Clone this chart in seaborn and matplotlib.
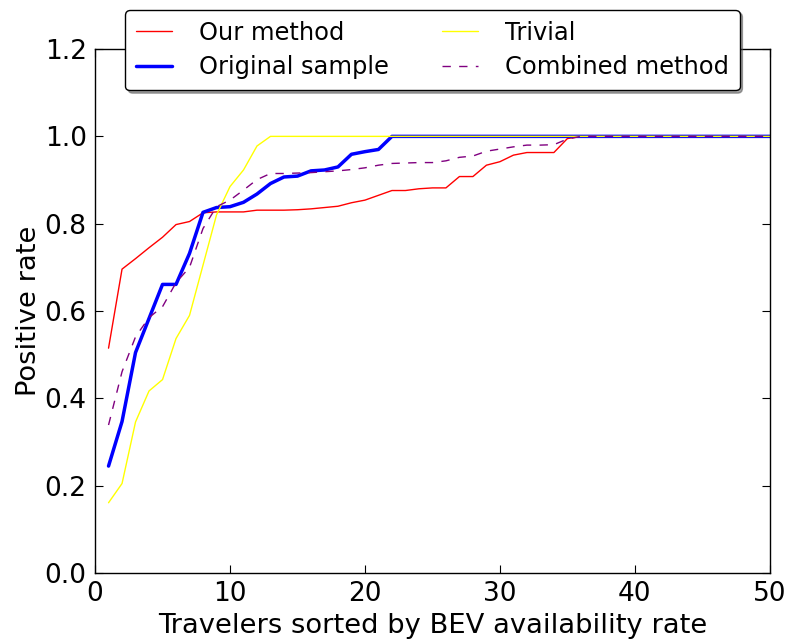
import matplotlib
matplotlib.use("Agg")
import matplotlib.pyplot as plt
import seaborn as sns
import numpy as np
import pandas as pd

travelers = list(range(1, 51))
our_method = [0.515, 0.696, 0.72, 0.745, 0.769, 0.798, 0.805, 0.825, 0.827, 0.827,
              0.827, 0.831, 0.831, 0.831, 0.832, 0.834, 0.837, 0.840, 0.848, 0.854,
              0.865, 0.876, 0.876, 0.880, 0.882, 0.882, 0.908, 0.908, 0.934, 0.942,
              0.957, 0.963, 0.963, 0.963, 0.995] + [1.0] * 15
original_sample = [0.245, 0.347, 0.505, 0.583, 0.661, 0.661, 0.732, 0.826, 0.837, 0.839,
                   0.849, 0.868, 0.892, 0.907, 0.909, 0.921, 0.923, 0.930, 0.959, 0.965,
                   0.970] + [1.0] * 29
trivial = [0.161, 0.205, 0.346, 0.417, 0.443, 0.537, 0.59, 0.705, 0.82, 0.885,
           0.923, 0.978] + [1.0] * 38
combined = [0.339, 0.461, 0.541, 0.585, 0.610, 0.665, 0.70, 0.789, 0.839, 0.854,
            0.877, 0.901, 0.915, 0.915, 0.916, 0.917, 0.919, 0.921, 0.924, 0.928,
            0.934, 0.938, 0.939, 0.940, 0.940, 0.944, 0.952, 0.955, 0.966, 0.971,
            0.976, 0.980, 0.980, 0.981, 0.994] + [1.0] * 15

sns.set_style("ticks")
plt.rcParams['font.family'] = ['DejaVu Sans']
plt.rcParams['xtick.direction'] = 'in'
plt.rcParams['ytick.direction'] = 'in'
plt.rcParams['xtick.top'] = True
plt.rcParams['ytick.right'] = True
plt.rcParams['text.color'] = 'black'
plt.rcParams['axes.labelcolor'] = 'black'
plt.rcParams['xtick.color'] = 'black'
plt.rcParams['ytick.color'] = 'black'

fig = plt.figure(figsize=(7.92, 6.41), dpi=100)
ax = fig.add_axes([0.120, 0.106, 0.852, 0.8175])

df = pd.DataFrame({"x": travelers, "our": our_method, "orig": original_sample,
                   "triv": trivial, "comb": combined})

sns.lineplot(data=df, x="x", y="our", ax=ax, color="#ff0000", lw=1.0, label="Our method")
sns.lineplot(data=df, x="x", y="orig", ax=ax, color="#0000ff", lw=2.5, label="Original sample")
sns.lineplot(data=df, x="x", y="triv", ax=ax, color="#ffff00", lw=1.0, label="Trivial")
sns.lineplot(data=df, x="x", y="comb", ax=ax, color="#800080", lw=1.0, label="Combined method")
ax.lines[-1].set_dashes((6, 6))

ax.set_xlim(0, 50)
ax.set_ylim(0, 1.2)
ax.set_xticks([0, 10, 20, 30, 40, 50])
ax.set_yticks([0.0, 0.2, 0.4, 0.6, 0.8, 1.0, 1.2])
ax.set_yticklabels(["0.0", "0.2", "0.4", "0.6", "0.8", "1.0", "1.2"])
ax.tick_params(labelsize=19, length=6, width=0.8, pad=6)
for s in ax.spines.values():
    s.set_visible(True)
    s.set_color("black")
    s.set_linewidth(1.0)
ax.set_xlabel("Travelers sorted by BEV availability rate", fontsize=19.7, labelpad=4)
ax.set_ylabel("Positive rate", fontsize=19.7, labelpad=2)

leg = ax.legend(loc="upper center", bbox_to_anchor=(0.5, 1.075), ncol=2,
                fontsize=17.4, frameon=True, shadow=True, fancybox=True,
                handlelength=1.5, handletextpad=1.1, columnspacing=2.2,
                labelspacing=0.45, borderaxespad=0, borderpad=0.45)
leg.get_frame().set_edgecolor("black")
leg.get_frame().set_linewidth(1.0)
leg.get_frame().set_alpha(1.0)

fig.savefig("out.png", dpi=100)
